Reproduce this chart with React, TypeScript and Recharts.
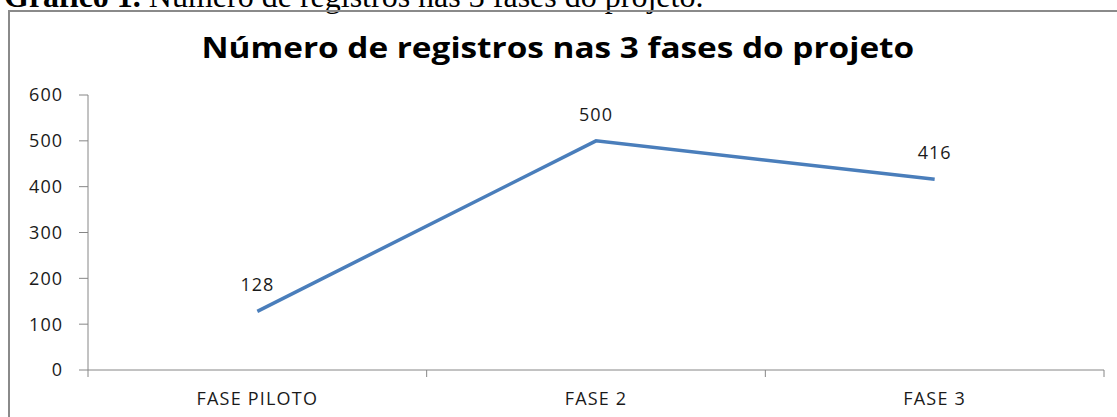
import { LineChart, Line, XAxis, YAxis, LabelList } from 'recharts'

const categories = ['FASE PILOTO', 'FASE 2', 'FASE 3']
const registros = [128, 500, 416]
const yTicks = [0, 100, 200, 300, 400, 500, 600]

const data = categories.map((name, i) => ({ pos: i + 0.5, name, registros: registros[i] }))

const xTicks = [0, 0.5, 1, 1.5, 2, 2.5, 3]

const fontFamily = '"Open Sans", "Liberation Sans", Arial, sans-serif'

function CategoryTick(props: any) {
  const { x, y, payload } = props
  const v = payload.value as number
  if (Number.isInteger(v)) {
    return <line x1={x} y1={y - 8} x2={x} y2={y - 1} stroke="#868686" strokeWidth={1} />
  }
  const label = categories[Math.floor(v)]
  return (
    <text x={x} y={y + 27} textAnchor="middle" fontSize={18} fill="#1a1a1a" fontFamily={fontFamily} letterSpacing={1.2}>
      {label}
    </text>
  )
}

export default function App() {
  return (
    <div style={{ position: 'absolute', left: 0, top: 0, width: 1117, height: 417, overflow: 'hidden', background: '#fff' }}>
      <div
        style={{
          position: 'absolute',
          left: 4,
          top: -22,
          fontFamily: '"Liberation Serif", "Times New Roman", serif',
          fontSize: 32,
          whiteSpace: 'nowrap',
          color: '#000',
        }}
      >
        <b>Gráfico 1.</b> Número de registros nas 3 fases do projeto.
      </div>
      <div
        style={{
          position: 'absolute',
          left: 8,
          top: 10,
          width: 1130,
          height: 430,
          border: '2px solid #8a8a8a',
          boxSizing: 'border-box',
        }}
      />
      <div
        style={{
          position: 'absolute',
          left: 0,
          top: 28,
          width: 1117,
          textAlign: 'center',
          fontFamily: fontFamily,
          fontWeight: 'bold',
          fontSize: 28,
          color: '#000',
          transform: 'scaleX(1.19)',
          transformOrigin: '562px 0',
        }}
      >
        Número de registros nas 3 fases do projeto
      </div>
      <div style={{ position: 'absolute', left: 0, top: 0 }}>
        <LineChart width={1117} height={417} data={data} margin={{ top: 95, right: 13, bottom: 17, left: 8 }}>
          <XAxis
            dataKey="pos"
            type="number"
            domain={[0, 3]}
            ticks={xTicks}
            interval={0}
            tickLine={false}
            axisLine={{ stroke: '#868686' }}
            tick={<CategoryTick />}
            height={30}
          />
          <YAxis
            type="number"
            domain={[0, 600]}
            ticks={yTicks}
            width={80}
            tickSize={9}
            tickMargin={16}
            axisLine={{ stroke: '#868686' }}
            tickLine={{ stroke: '#868686' }}
            tick={{ fontSize: 18, fill: '#1a1a1a', fontFamily, letterSpacing: 1 }}
          />
          <Line
            type="linear"
            dataKey="registros"
            stroke="#4A7EBB"
            strokeWidth={3.5}
            dot={false}
            isAnimationActive={false}
          >
            <LabelList
              dataKey="registros"
              position="top"
              offset={20}
              fontSize={18}
              fill="#1a1a1a"
              fontFamily={fontFamily}
              letterSpacing={1}
            />
          </Line>
        </LineChart>
      </div>
    </div>
  )
}
